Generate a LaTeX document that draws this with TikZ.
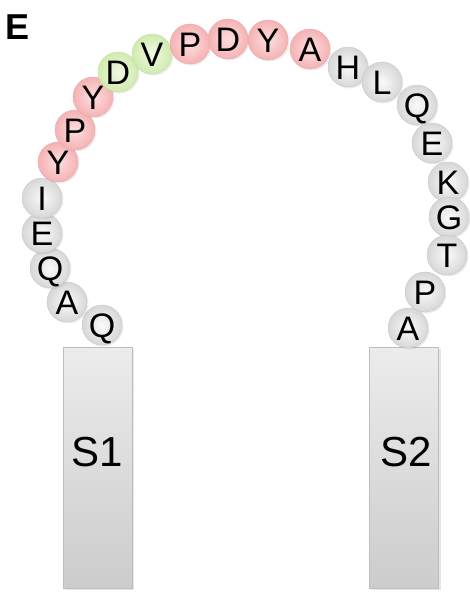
\documentclass[tikz,border=0pt]{standalone}
\usepackage{fontspec}
\setmainfont{Liberation Sans}
\usetikzlibrary{shadows}
\definecolor{beadgin}{RGB}{250,250,250}
\definecolor{beadgout}{RGB}{215,215,215}
\definecolor{beadgedge}{RGB}{200,200,200}
\definecolor{beadpin}{RGB}{255,222,222}
\definecolor{beadpout}{RGB}{244,178,180}
\definecolor{beadpedge}{RGB}{236,170,172}
\definecolor{beadrin}{RGB}{240,250,228}
\definecolor{beadrout}{RGB}{208,234,174}
\definecolor{beadredge}{RGB}{196,224,162}
\definecolor{slabtop}{RGB}{236,236,236}
\definecolor{slabbot}{RGB}{204,204,204}
\definecolor{slabedge}{RGB}{190,190,190}
\begin{document}
\begin{tikzpicture}[x=1pt,y=-1pt,
  bead/.style={circle, minimum size=40pt, inner sep=0pt,
    font=\fontsize{34}{34}\selectfont, text height=24.3pt, text depth=0pt,
    draw=bead#1edge, line width=0.4pt,
    inner color=bead#1in, outer color=bead#1out,
    drop shadow={opacity=0.15, shadow xshift=1.5pt, shadow yshift=-1.5pt}},
  slab/.style={rectangle, draw=slabedge, line width=0.5pt,
    top color=slabtop, bottom color=slabbot,
    minimum width=69pt, minimum height=241pt, inner sep=0pt,
    drop shadow={opacity=0.2, shadow xshift=2pt, shadow yshift=-2pt}},
  slabtext/.style={font=\fontsize{42}{42}\selectfont, inner sep=0pt}]
\useasboundingbox (0,0) rectangle (470,594);
\node[font=\fontsize{36}{36}\selectfont\bfseries, inner sep=0pt] (lbl) at (18,27) {E};
\node[slab] (s1) at (97.5,467.5) {};
\node[slab] (s2) at (404,467.5) {};
\node[slabtext] (t1) at (97.5,452) {S1};
\node[slabtext] (t2) at (406,452) {S2};
\foreach \i/\x/\y/\c/\t in {
  1/102/325/g/Q, 2/67/302/g/A, 3/50/268/g/Q, 4/42/233/g/E, 5/42/198/g/I,
  6/58/162/p/Y, 7/75/130/p/P, 8/93/97/p/Y, 9/118/72/r/D, 10/152/54/r/V,
  11/190/44/p/P, 12/228/39/p/D, 13/268/40/p/Y, 14/310/49/p/A,
  15/348/67/g/H, 16/382/82/g/L, 17/417/105/g/Q, 18/432/143/g/E,
  19/448/182/g/K, 20/449/217/g/G, 21/447/255/g/T, 22/425/292/g/P,
  23/408/328/g/A}
  \node[bead=\c] (b\i) at (\x,\y) {\t};
\end{tikzpicture}
\end{document}
